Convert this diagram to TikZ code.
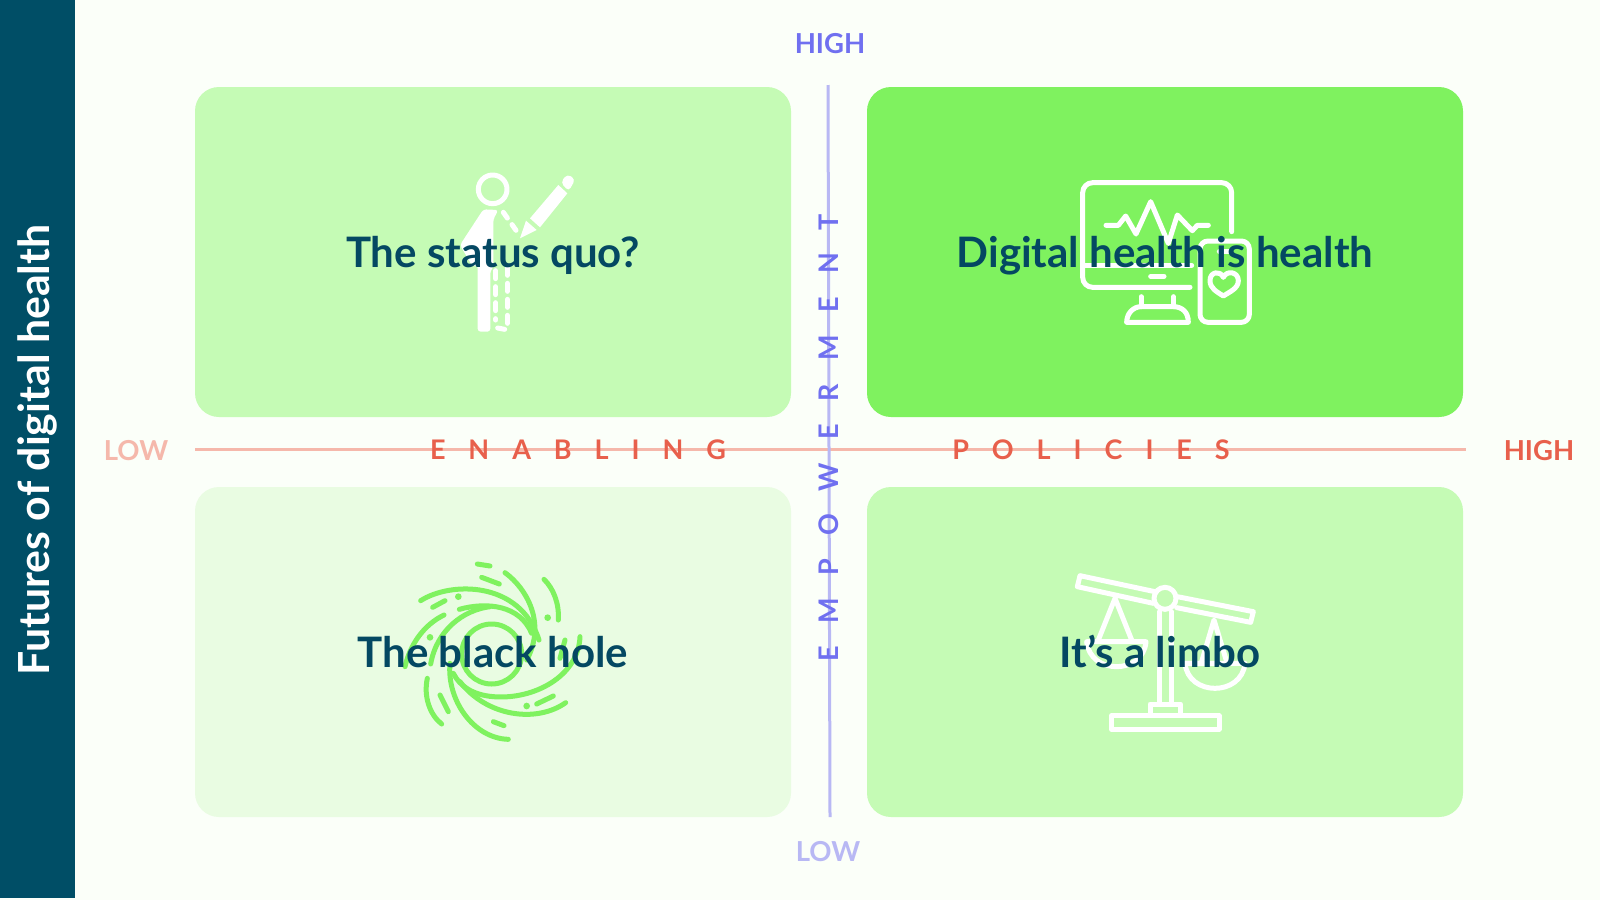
\documentclass[tikz,border=0pt]{standalone}
\usepackage{fontspec}
\setmainfont{Lato}
\usepackage{tikz}
\definecolor{pagewhite}{RGB}{251,255,249}
\definecolor{stripteal}{RGB}{0,78,102}
\definecolor{titleteal}{RGB}{4,72,98}
\definecolor{fullgreen}{RGB}{127,242,95}
\definecolor{midgreen}{RGB}{197,251,181}
\definecolor{palegreen}{RGB}{233,252,226}
\definecolor{axisred}{RGB}{232,96,76}
\definecolor{fadedred}{RGB}{245,184,171}
\definecolor{axisblue}{RGB}{112,112,240}
\definecolor{fadedblue}{RGB}{184,184,244}
\newcommand{\spacedcaps}{\addfontfeature{LetterSpace=85}}
\tikzset{
  quadbox/.style={
    rounded corners=24pt,
    minimum width=596pt,
    minimum height=330pt,
    inner sep=0pt
  },
  quadtext/.style={font=\fontsize{42}{46}\selectfont\bfseries,text=titleteal,inner sep=0pt,anchor=base},
  endlabel/.style={font=\fontsize{27.5}{30}\selectfont\bfseries,inner sep=0pt},
  axislabel/.style={font=\fontsize{27}{30}\selectfont\bfseries\spacedcaps,inner sep=0pt},
  axisline/.style={line width=3pt},
  iconline/.style={draw=white,line width=5pt,line cap=round,line join=round},
  holeline/.style={draw=fullgreen,line width=5pt,line cap=round,line join=round}
}
\begin{document}
\begin{tikzpicture}[x=1pt,y=-1pt]
  \useasboundingbox (0,0) rectangle (1600,900);
  \fill[pagewhite] (0,0) rectangle (1600,900);
  \fill[stripteal] (0,0) rectangle (74.5,898);
  \node[rotate=90,font=\fontsize{42.8}{46}\selectfont\bfseries,text=white,inner sep=0pt] (strip) at (37,450) {Futures of digital health};

  \node[quadbox,fill=midgreen] (statusbox) at (493,252) {};
  \node[quadbox,fill=fullgreen] (digitalbox) at (1165,252) {};
  \node[quadbox,fill=palegreen] (holebox) at (493,652) {};
  \node[quadbox,fill=midgreen] (limbobox) at (1165,652) {};

  % axes
  \coordinate (xlow) at (195,449.5);
  \coordinate (xhigh) at (1466,449.5);
  \coordinate (ytop) at (828,85);
  \coordinate (ybot) at (830,817);
  \draw[axisline,fadedred] (xlow) -- (xhigh);
  \draw[axisline,fadedblue] (ytop) -- (ybot);

  % person
  \begin{scope}[shift={(430,150)},scale=1/3]
    \draw[iconline] (188,118) circle (43);
    \fill[white,rounded corners=3pt] (160,178) -- (205,180) -- (190,208) -- (190,352) -- (181,362) -- (181,545)
      -- (143,545) -- (143,345) -- (128,350) -- (90,285) -- cycle;
    \draw[iconline,dash pattern=on 7pt off 8pt] (220,187) -- (268,255);
    \draw[iconline,dash pattern=on 8pt off 8pt] (232,352) -- (232,522);
    \draw[iconline,dash pattern=on 8pt off 8pt] (197,362) -- (197,510);
    \draw[iconline] (203,534) -- (224,538);
    \fill[white] (300,205) -- (385,105) -- (412,130) -- (330,232) -- cycle;
    \fill[white] (288,212) -- (320,240) -- (270,265) -- cycle;
    \fill[white,rounded corners=4pt] (392,97) -- (412,72) -- (436,88) -- (416,124) -- cycle;
  \end{scope}

  % monitor and phone
  \begin{scope}[shift={(1060,160)},scale=1/3]
    \draw[iconline,rounded corners=10pt] (515,215) -- (515,68) -- (68,68) -- (68,382) -- (390,382);
    \draw[iconline] (68,316) -- (395,316);
    \draw[iconline] (272,349) -- (312,349);
    \draw[iconline] (243,410) -- (243,440);
    \draw[iconline] (340,410) -- (340,440);
    \draw[iconline] (200,487) -- (385,487) .. controls (385,455) and (365,440) .. (340,440) -- (243,440)
      .. controls (220,440) and (200,460) .. (200,487);
    \draw[iconline] (138,196) -- (175,196) -- (197,168) -- (228,222) -- (272,125) -- (325,250) -- (352,165) -- (397,212) -- (412,196) -- (445,196);
    \draw[iconline,rounded corners=8pt] (420,243) rectangle (568,487);
    \draw[iconline] (478,275) -- (510,275);
    \draw[iconline] (490,408) .. controls (470,395) and (450,385) .. (450,362)
      .. controls (450,335) and (480,330) .. (490,352)
      .. controls (500,330) and (535,335) .. (535,362)
      .. controls (535,385) and (510,395) .. (490,408) -- cycle;
  \end{scope}

  % black hole
  \begin{scope}[shift={(390,550)},scale=1/3]
    \draw[holeline] (305,312) circle (90);
    \draw[holeline] (92,152) .. controls (180,95) and (390,90) .. (447,270);
    \draw[holeline] (345,68) .. controls (410,115) and (470,220) .. (410,330);
    \draw[holeline] (462,88) .. controls (490,115) and (508,160) .. (505,210);
    \draw[holeline] (262,42) -- (300,48);
    \draw[holeline] (275,82) -- (328,102);
    \draw[holeline] (128,172) -- (165,152);
    \draw[holeline] (162,195) .. controls (100,225) and (60,285) .. (45,350);
    \draw[holeline] (208,178) .. controls (290,155) and (390,165) .. (425,250);
    \draw[holeline] (122,342) .. controls (140,240) and (220,180) .. (300,170);
    \draw[holeline] (112,385) .. controls (100,440) and (120,495) .. (155,522);
    \draw[holeline] (150,435) -- (175,485);
    \draw[holeline] (310,515) -- (342,527);
    \draw[holeline] (180,340) .. controls (170,450) and (250,565) .. (355,568);
    \draw[holeline] (527,458) .. controls (440,520) and (290,500) .. (210,395);
    \draw[holeline] (440,462) -- (490,438);
    \draw[holeline] (570,260) .. controls (565,380) and (430,450) .. (310,440) .. controls (250,435) and (210,410) .. (190,370);
    \draw[holeline] (525,270) -- (510,325);
    \foreach \dotx/\doty in {205/140,473/203,120/262,410/468}
      \fill[fullgreen] (\dotx,\doty) circle (10);
  \end{scope}

  % scales
  \begin{scope}[shift={(1060,560)},scale=1/3]
    \draw[iconline] (285,95) -- (60,47) -- (52,80) -- (280,130);
    \draw[iconline] (352,110) -- (580,155) -- (572,187) -- (350,143);
    \draw[iconline] (315,115) circle (33);
    \draw[iconline] (298,155) -- (298,432);
    \draw[iconline] (335,155) -- (335,432);
    \draw[iconline] (270,462) -- (270,432) -- (362,432) -- (362,462);
    \draw[iconline] (155,467) rectangle (477,508);
    \draw[iconline] (115,240) -- (165,115) -- (215,240);
    \draw[iconline] (80,245) -- (258,245) .. controls (250,345) and (90,345) .. (80,245) -- cycle;
    \draw[iconline] (425,305) -- (462,180) -- (500,305);
    \draw[iconline] (375,310) -- (555,310) .. controls (545,410) and (385,410) .. (375,310) -- cycle;
  \end{scope}

  \node[quadtext] (statustext) at (493,267) {The status quo?};
  \node[quadtext] (digitaltext) at (1165,267) {Digital health is health};
  \node[quadtext] (holetext) at (493,667) {The black hole};
  \node[quadtext] (limbotext) at (1160,667) {It’s a limbo};

  \node[endlabel,text=axisblue] (yhigh) at (830,43.5) {HIGH};
  \node[endlabel,text=fadedblue] (ylow) at (828,851.5) {LOW};
  \node[endlabel,text=fadedred] (xlowtext) at (136,450.5) {LOW};
  \node[endlabel,text=axisred] (xhightext) at (1539,450.5) {HIGH};
  \node[axislabel,text=axisred] (enabling) at (578,450) {ENABLING};
  \node[axislabel,text=axisred] (policies) at (1091,450) {POLICIES};
  \node[axislabel,text=axisblue,rotate=90] (empower) at (829,438) {EMPOWERMENT};
\end{tikzpicture}
\end{document}
